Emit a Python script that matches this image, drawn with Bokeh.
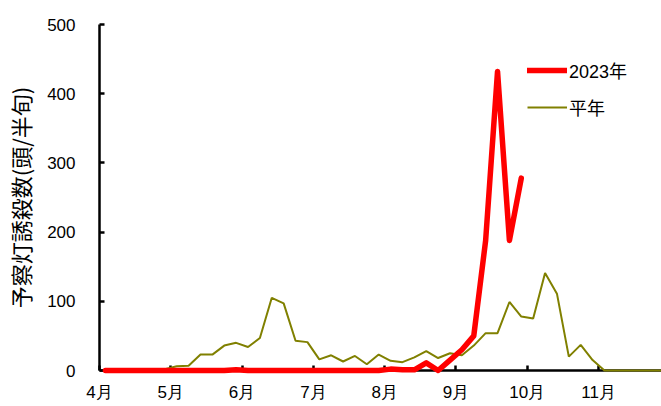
from bokeh.plotting import figure
from bokeh.models import Range1d, FixedTicker, Legend, LegendItem
from bokeh.embed import file_html
from bokeh.resources import INLINE

# ---- data (half-month periods, starting at 4月 第1半旬) ----
months = ["4月", "5月", "6月", "7月", "8月", "9月", "10月", "11月"]
periods_per_month = 6

normal = [0, 0, 0, 0.5, 1, 2, 6, 7, 23, 23, 36, 40,
          34, 47, 105, 97, 43, 41, 16, 22, 13, 21, 9, 23,
          14, 12, 19, 28, 18, 25, 22, 36, 54, 54, 99, 78,
          75, 141, 111, 20, 37, 15, 0, 0, 0, 0, 0, 0]

y2023 = [0, 0, 0, 0, 0, 0, 0, 0, 0, 0, 0, 1,
         0, 0, 0, 0, 0, 0, 0, 0, 0, 0, 0, 0,
         2, 1, 1, 11, 0, 15, 30, 50, 188, 432, 188, 278]

y_ticks = [0, 100, 200, 300, 400, 500]

x_normal = [i + 0.5 for i in range(len(normal))]
x_2023 = [i + 0.5 for i in range(len(y2023))]
month_starts = [m * periods_per_month for m in range(len(months))]

FONT = "'Liberation Sans', 'Noto Sans CJK JP'"
LAT = "'Liberation Sans'"
CJK = "'Noto Sans CJK JP'"

p = figure(width=661, height=406, output_backend="svg", toolbar_location=None,
           x_range=Range1d(0, 47.3), y_range=Range1d(0, 500),
           min_border_left=99, min_border_top=24, min_border_bottom=36,
           min_border_right=0)
p.outline_line_color = None
p.xgrid.visible = False
p.ygrid.visible = False
p.background_fill_color = "white"
p.border_fill_color = "white"

r_norm = p.line(x_normal, normal, line_color="#808000", line_width=2, level="overlay")
r_2023 = p.line(x_2023, y2023, line_color="#FF0000", line_width=5.5,
                line_cap="round", line_join="round", level="overlay")

xa = p.xaxis[0]
xa.ticker = FixedTicker(ticks=month_starts)
xa.major_label_overrides = {m: lab for m, lab in zip(month_starts, months)}
xa.major_tick_in = 5
xa.major_tick_out = 0
xa.minor_tick_line_color = None
xa.axis_line_width = 2.5
xa.major_tick_line_width = 2.5
xa.major_label_standoff = 12
xa.major_label_text_font = LAT
xa.major_label_text_font_size = "17px"
xa.major_label_text_color = "black"

ya = p.yaxis[0]
ya.ticker = FixedTicker(ticks=y_ticks)
ya.major_tick_in = 5
ya.major_tick_out = 0
ya.minor_tick_line_color = None
ya.axis_line_width = 2.5
ya.major_tick_line_width = 2.5
ya.major_label_standoff = 24
ya.major_label_text_font = LAT
ya.major_label_text_font_size = "17px"
ya.major_label_text_color = "black"
ya.axis_label = "予察灯誘殺数(頭/半旬)"
ya.axis_label_text_font = CJK
ya.axis_label_text_font_size = "22px"
ya.axis_label_text_font_style = "normal"
ya.axis_label_text_color = "black"
ya.axis_label_standoff = 8

legend = Legend(items=[LegendItem(label="2023年", renderers=[r_2023]),
                       LegendItem(label="平年", renderers=[r_norm])],
                location=(428, 250), padding=0, margin=0, spacing=11,
                glyph_width=40, glyph_height=20, label_height=20,
                label_standoff=2, label_text_font=FONT,
                label_text_font_size="18px", label_text_color="black",
                background_fill_alpha=0, border_line_color=None)
p.add_layout(legend, "center")

open("out.html", "w").write(file_html(p, INLINE))
